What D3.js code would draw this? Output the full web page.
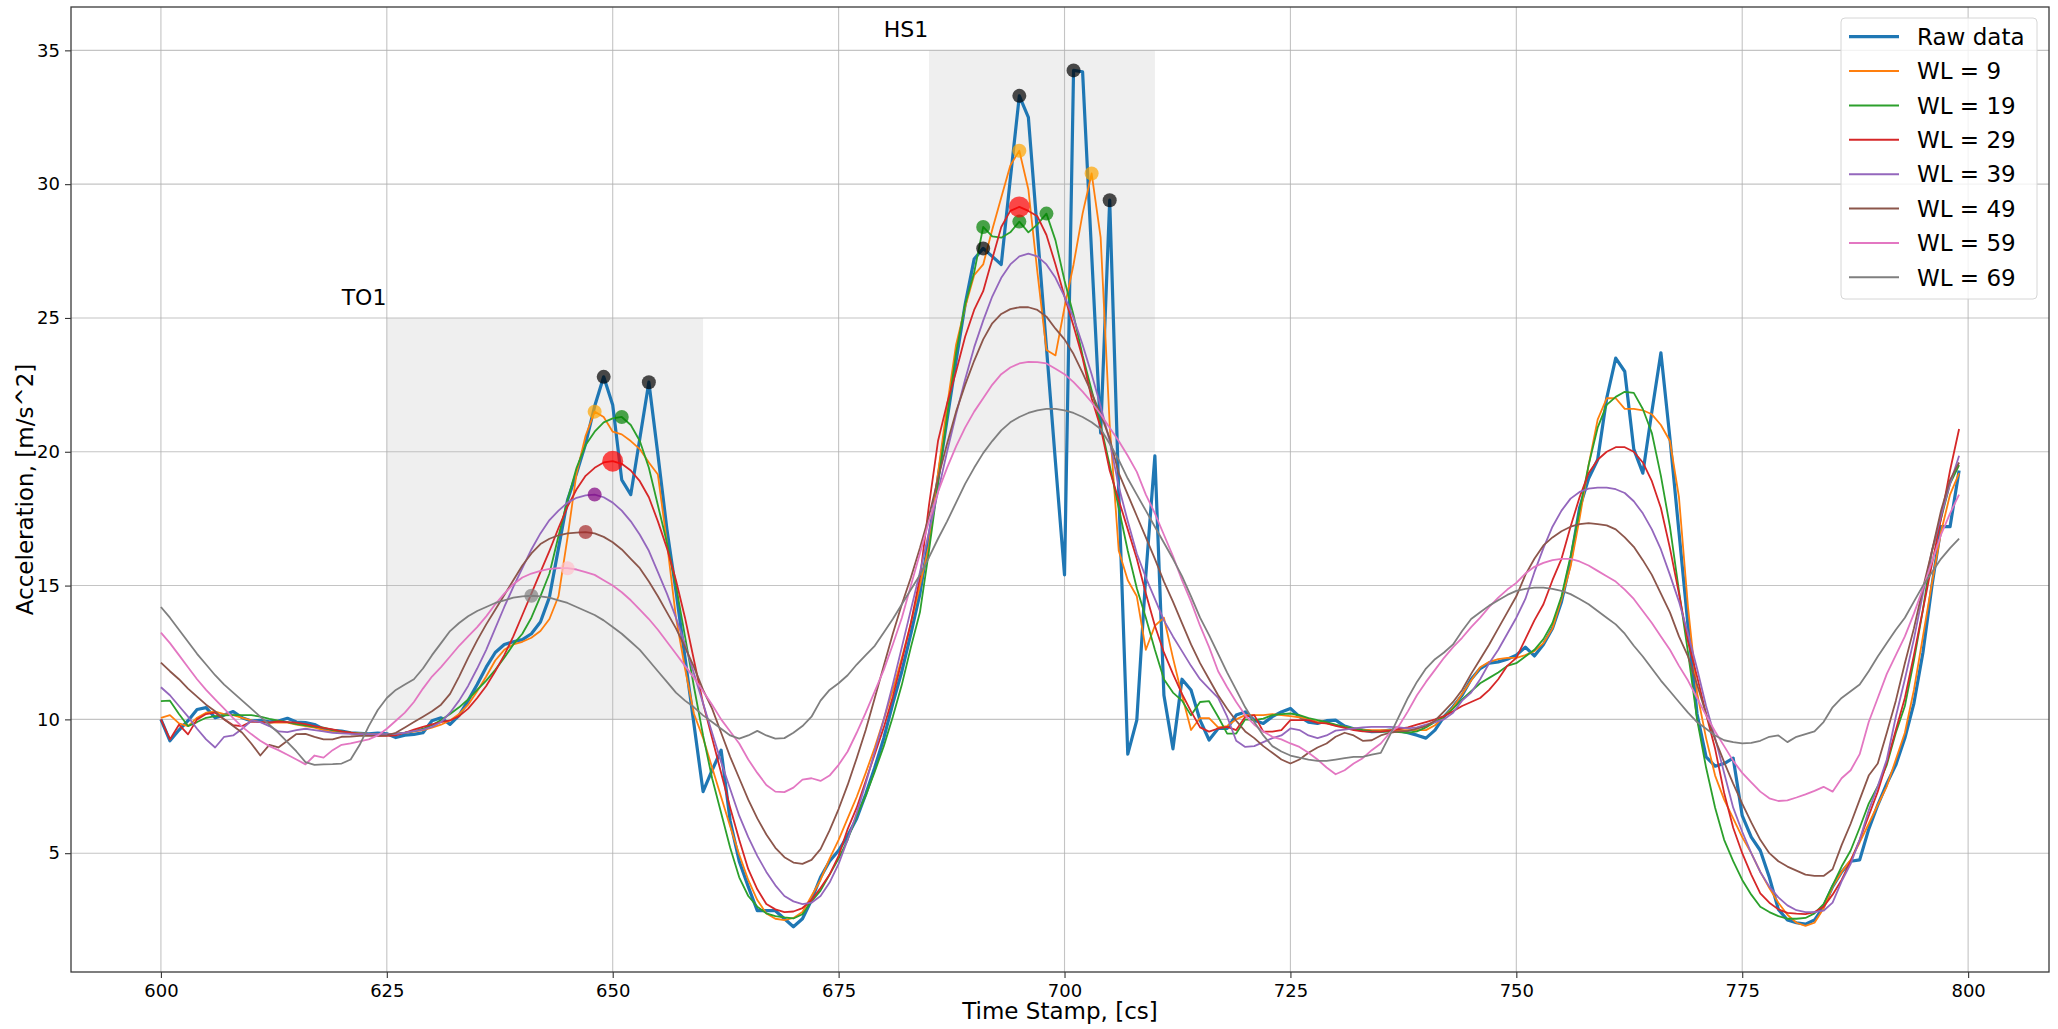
<!DOCTYPE html>
<html>
<head>
<meta charset="utf-8">
<script src="https://cdn.jsdelivr.net/npm/d3@7"></script>
<style>
  html, body { margin: 0; padding: 0; background: #ffffff; }
  svg { display: block; }
  text { font-family: "DejaVu Sans", sans-serif; fill: #000; }
</style>
</head>
<body>
<svg id="chart" width="2058" height="1029"></svg>
<script>
// ---------------- DATA ----------------
const timeStamp = d3.range(600, 800);   // time stamps 600 ... 799 [cs]

const rawData = [
 10.0, 9.2, 9.6, 9.95, 10.37, 10.44, 10.06, 10.16, 10.29, 10.06,
 9.94, 9.96, 9.91, 9.94, 10.04, 9.9, 9.88, 9.81, 9.63, 9.59,
 9.56, 9.5, 9.48, 9.46, 9.49, 9.46, 9.32, 9.41, 9.44, 9.5,
 9.95, 10.06, 9.81, 10.15, 10.7, 11.3, 11.95, 12.5, 12.8, 12.9,
 12.98, 13.2, 13.64, 14.57, 16.4, 18.2, 19.2, 20.3, 21.7, 22.8,
 21.75, 18.95, 18.4, 20.5, 22.6, 19.9, 17.1, 14.8, 12.3, 9.8,
 7.3, 8.1, 8.85, 6.2, 4.7, 3.75, 2.85, 2.85, 2.85, 2.55,
 2.25, 2.55, 3.25, 4.1, 4.7, 5.1, 5.65, 6.3, 7.2, 8.2,
 9.3, 10.6, 11.8, 13.2, 14.7, 16.8, 19.0, 21.2, 23.4, 25.5,
 27.2, 27.6, 27.3, 27.0, 30.2, 33.3, 32.5, 28.2, 23.9, 19.6,
 15.4, 34.25, 34.2, 27.4, 20.7, 29.4, 18.5, 8.7, 9.97, 15.4,
 19.85, 10.9, 8.9, 11.5, 11.1, 9.97, 9.23, 9.66, 9.66, 10.16,
 10.28, 9.97, 9.85, 10.1, 10.28, 10.41, 10.1, 9.9, 9.85, 9.95,
 9.97, 9.75, 9.65, 9.6, 9.54, 9.55, 9.6, 9.58, 9.5, 9.41,
 9.3, 9.6, 10.1, 10.47, 10.9, 11.5, 11.9, 12.1, 12.15, 12.25,
 12.4, 12.7, 12.37, 12.8, 13.4, 14.4, 15.9, 17.9, 19.0, 19.7,
 22.0, 23.5, 23.0, 20.1, 19.2, 21.5, 23.7, 20.5, 17.0, 13.5,
 10.2, 8.6, 8.25, 8.35, 8.55, 6.4, 5.6, 5.1, 4.1, 2.9,
 2.5, 2.4, 2.35, 2.5, 3.0, 3.75, 4.3, 4.7, 4.75, 5.9,
 6.8, 7.6, 8.3, 9.3, 10.6, 12.5, 15.0, 17.2, 17.2, 19.3
];

const wl9 = [
 10.06, 10.16, 9.85, 9.75, 10.06, 10.25, 10.29, 10.2, 10.16, 10.06,
 9.96, 9.9, 9.88, 9.88, 9.88, 9.8, 9.75, 9.69, 9.6, 9.54,
 9.5, 9.5, 9.48, 9.46, 9.46, 9.44, 9.46, 9.5, 9.54, 9.6,
 9.69, 9.8, 9.96, 10.2, 10.55, 11.05, 11.6, 12.2, 12.6, 12.8,
 12.9, 13.05, 13.3, 13.75, 14.6, 16.8, 19.2, 20.6, 21.5, 21.3,
 20.75, 20.65, 20.4, 20.1, 19.6, 19.15, 16.6, 13.8, 11.9, 10.2,
 9.3, 8.2, 7.1, 6.0, 4.95, 4.0, 3.25, 2.75, 2.55, 2.5,
 2.58, 2.8, 3.4, 4.0, 4.8, 5.5, 6.3, 7.1, 8.0, 8.95,
 10.0, 11.1, 12.3, 13.6, 15.0, 16.5, 19.2, 21.7, 24.0, 25.4,
 26.6, 27.0, 28.3, 29.5, 30.7, 31.25, 29.8, 26.7, 23.8, 23.6,
 25.4, 27.0, 28.9, 30.4, 28.0, 21.0, 16.3, 15.2, 14.6, 12.6,
 13.5, 13.8, 12.3, 10.9, 9.6, 10.05, 10.05, 9.7, 9.75, 10.0,
 10.16, 10.16, 10.16, 10.2, 10.16, 10.12, 10.08, 10.03, 9.9, 9.85,
 9.78, 9.72, 9.66, 9.62, 9.6, 9.6, 9.6, 9.6, 9.6, 9.6,
 9.6, 9.78, 10.1, 10.45, 10.95, 11.45, 11.95, 12.15, 12.25, 12.3,
 12.3, 12.4, 12.55, 12.85, 13.4, 14.5, 15.7, 17.5, 19.5, 21.2,
 22.0, 22.0, 21.6, 21.6, 21.55, 21.4, 21.0, 20.4, 18.3, 14.2,
 11.0, 9.3, 7.9, 7.0, 6.3, 5.6, 5.0, 4.3, 3.7, 3.15,
 2.7, 2.4, 2.28, 2.4, 2.93, 3.75, 4.3, 4.75, 5.4, 6.1,
 6.8, 7.5, 8.5, 9.5, 11.1, 13.1, 15.1, 17.0, 18.4, 19.2
];

const wl19 = [
 10.68, 10.7, 10.2, 9.75, 9.9, 10.06, 10.12, 10.15, 10.16, 10.16,
 10.16, 10.1, 10.02, 9.95, 9.9, 9.82, 9.78, 9.72, 9.69, 9.6,
 9.55, 9.5, 9.46, 9.44, 9.44, 9.44, 9.46, 9.5, 9.56, 9.65,
 9.78, 9.98, 10.2, 10.45, 10.75, 11.1, 11.45, 11.85, 12.3, 12.8,
 13.2, 13.8, 14.6, 15.45, 16.85, 18.2, 19.4, 20.25, 20.75, 21.1,
 21.25, 21.3, 21.0, 20.4, 19.4, 18.0, 16.6, 15.0, 13.1, 11.2,
 9.4, 7.8, 6.5, 5.2, 4.1, 3.4, 3.0, 2.75, 2.65, 2.6,
 2.56, 2.72, 3.2, 3.6, 4.2, 4.8, 5.5, 6.4, 7.15, 8.05,
 9.0, 10.1, 11.3, 12.7, 14.0, 16.3, 18.8, 21.3, 23.7, 25.5,
 26.7, 28.4, 28.05, 28.0, 28.2, 28.6, 28.2, 28.5, 28.9, 27.9,
 26.4, 25.1, 23.6, 22.3, 21.0, 19.5, 17.9, 16.3, 14.9, 13.8,
 12.6, 11.5, 11.0, 10.7, 10.15, 10.65, 10.68, 10.1, 9.47, 9.47,
 10.0, 9.97, 10.03, 10.16, 10.2, 10.22, 10.16, 10.05, 9.97, 9.9,
 9.8, 9.72, 9.66, 9.6, 9.56, 9.54, 9.54, 9.52, 9.5, 9.55,
 9.7, 9.9, 10.1, 10.4, 10.75, 11.05, 11.35, 11.55, 11.75, 12.0,
 12.1, 12.35, 12.6, 13.0, 13.6, 14.6, 16.1, 17.8, 19.5, 20.9,
 21.75, 22.05, 22.24, 22.2, 21.6, 20.7, 19.1, 17.2, 14.8, 12.5,
 10.0, 8.2, 6.7, 5.5, 4.7, 4.0, 3.45, 3.0, 2.8, 2.65,
 2.55, 2.55, 2.58, 2.75, 3.1, 3.8, 4.5, 5.1, 5.95, 6.85,
 7.5, 8.3, 9.5, 10.5, 12.2, 14.1, 16.3, 17.5, 18.8, 19.5
];

const wl29 = [
 10.0, 9.25, 9.8, 9.44, 10.0, 10.2, 10.25, 10.0, 9.78, 9.75,
 9.92, 9.9, 9.88, 9.92, 9.9, 9.88, 9.82, 9.75, 9.68, 9.63,
 9.55, 9.5, 9.45, 9.42, 9.38, 9.38, 9.4, 9.5, 9.62, 9.72,
 9.81, 9.9, 9.96, 10.12, 10.4, 10.8, 11.25, 11.8, 12.4, 13.1,
 13.9, 14.7, 15.5, 16.3, 17.15, 17.95, 18.6, 19.1, 19.4, 19.6,
 19.65, 19.55, 19.3, 18.9, 18.3, 17.4, 16.4, 15.2, 13.8, 12.2,
 10.6, 9.3, 8.0, 6.7, 5.5, 4.4, 3.65, 3.1, 2.9, 2.8,
 2.82, 2.95, 3.25, 3.7, 4.2, 4.9, 5.9, 6.7, 7.7, 8.7,
 9.7, 10.85, 12.2, 13.6, 15.3, 18.0, 20.4, 21.8, 23.0, 24.3,
 25.3, 26.0, 27.2, 28.4, 29.0, 29.15, 29.0, 28.8, 28.1, 27.0,
 25.8, 24.7, 23.5, 22.0, 20.9, 19.3, 18.2, 17.1, 16.0, 14.7,
 13.5, 12.5, 11.7, 10.95, 10.3, 9.7, 9.54, 9.66, 9.72, 9.6,
 10.1, 10.16, 9.54, 9.54, 9.6, 9.97, 9.97, 9.97, 9.87, 9.85,
 9.76, 9.68, 9.6, 9.55, 9.54, 9.54, 9.58, 9.64, 9.7, 9.8,
 9.9, 10.0, 10.12, 10.3, 10.5, 10.65, 10.8, 11.1, 11.5, 12.0,
 12.3, 13.0, 13.7, 14.3, 15.2, 16.0, 17.2, 18.3, 19.2, 19.7,
 20.0, 20.17, 20.17, 20.0, 19.6, 18.9, 17.9, 16.4, 14.7, 12.9,
 11.6, 10.2, 8.9, 7.25, 5.95, 5.0, 4.2, 3.5, 3.15, 2.9,
 2.77, 2.74, 2.72, 2.8, 3.0, 3.45, 4.0, 4.7, 5.5, 6.4,
 7.3, 8.4, 9.6, 10.8, 12.4, 14.1, 15.8, 17.5, 19.3, 20.85
];

const wl39 = [
 11.2, 10.9, 10.5, 10.1, 9.65, 9.25, 8.95, 9.35, 9.4, 9.65,
 9.95, 9.9, 9.75, 9.55, 9.52, 9.6, 9.65, 9.6, 9.55, 9.5,
 9.48, 9.46, 9.45, 9.45, 9.45, 9.45, 9.46, 9.5, 9.56, 9.62,
 9.72, 9.9, 10.25, 10.7, 11.25, 11.9, 12.6, 13.4, 14.2, 14.95,
 15.65, 16.35, 16.95, 17.45, 17.8, 18.1, 18.28, 18.37, 18.4, 18.3,
 18.1, 17.8, 17.4, 16.9, 16.3, 15.5, 14.7, 13.8, 12.8, 11.7,
 10.6, 9.5, 8.4, 7.4, 6.4, 5.6, 4.9, 4.3, 3.8, 3.4,
 3.2, 3.1, 3.15, 3.4, 3.9, 4.6, 5.5, 6.5, 7.6, 8.8,
 10.0, 11.3, 12.7, 14.1, 15.5, 17.0, 18.5, 20.0, 21.4, 22.7,
 23.9, 24.9, 25.8, 26.5, 27.0, 27.3, 27.4, 27.3, 27.0, 26.5,
 25.8, 25.0, 24.0, 22.9, 21.7, 20.4, 18.7, 17.4, 16.2, 15.3,
 14.5, 13.7, 13.1, 12.55, 12.0, 11.5, 11.15, 10.8, 10.1, 9.2,
 8.97, 9.0, 9.15, 9.3, 9.4, 9.66, 9.6, 9.4, 9.3, 9.4,
 9.58, 9.62, 9.66, 9.7, 9.72, 9.72, 9.72, 9.7, 9.66, 9.7,
 9.8, 9.9, 10.0, 10.25, 10.7, 11.0, 11.5, 12.1, 12.6, 13.2,
 13.8, 14.5, 15.5, 16.4, 17.2, 17.8, 18.25, 18.5, 18.62, 18.66,
 18.66, 18.6, 18.46, 18.15, 17.7, 17.1, 16.35, 15.4, 14.4, 13.2,
 11.9, 10.5, 9.3, 8.0, 6.7, 5.8, 5.0, 4.3, 3.75, 3.35,
 3.05, 2.87, 2.8, 2.8, 2.85, 3.15, 3.95, 4.6, 5.5, 6.6,
 7.5, 8.5, 10.1, 11.5, 13.0, 14.7, 16.3, 17.6, 18.8, 19.85
];

const wl49 = [
 12.12, 11.8, 11.5, 11.15, 10.85, 10.55, 10.3, 10.0, 9.75, 9.5,
 9.1, 8.65, 9.05, 8.95, 9.2, 9.45, 9.46, 9.35, 9.25, 9.25,
 9.35, 9.36, 9.38, 9.38, 9.38, 9.4, 9.5, 9.7, 9.9, 10.1,
 10.3, 10.55, 10.95, 11.6, 12.3, 12.95, 13.55, 14.1, 14.65, 15.2,
 15.75, 16.2, 16.55, 16.75, 16.88, 16.95, 16.98, 17.0, 16.95, 16.82,
 16.62, 16.35, 16.0, 15.65, 15.15, 14.6, 14.0, 13.4, 12.7, 11.95,
 11.1, 10.4, 9.5, 8.6, 7.8, 7.0, 6.3, 5.7, 5.2, 4.85,
 4.65, 4.6, 4.75, 5.15, 5.85, 6.65, 7.55, 8.55, 9.6, 10.8,
 12.0, 13.2, 14.3, 15.3, 16.4, 17.6, 19.0, 20.3, 21.5, 22.5,
 23.4, 24.2, 24.8, 25.15, 25.33, 25.4, 25.4, 25.3, 25.05, 24.6,
 24.2, 23.65, 22.95, 22.2, 21.4, 20.5, 19.2, 18.4, 17.6, 16.8,
 16.0, 15.15, 14.4, 13.6, 12.8, 12.1, 11.5, 10.9, 10.4, 9.95,
 9.55, 9.3, 9.0, 8.75, 8.5, 8.35, 8.5, 8.75, 8.95, 9.1,
 9.35, 9.5, 9.4, 9.2, 9.22, 9.4, 9.5, 9.55, 9.57, 9.65,
 9.75, 9.95, 10.3, 10.65, 11.1, 11.7, 12.25, 12.8, 13.4, 14.0,
 14.6, 15.4, 16.0, 16.5, 16.8, 17.03, 17.2, 17.3, 17.33, 17.3,
 17.25, 17.1, 16.8, 16.45, 15.95, 15.4, 14.7, 14.0, 13.1, 12.35,
 11.3, 10.2, 9.25, 8.4, 7.6, 6.85, 6.15, 5.5, 5.0, 4.7,
 4.5, 4.35, 4.2, 4.15, 4.15, 4.4, 5.3, 6.1, 7.0, 7.9,
 8.35, 9.5, 10.7, 12.1, 13.4, 14.9, 16.3, 17.8, 18.95, 19.6
];

const wl59 = [
 13.24, 12.85, 12.4, 11.95, 11.5, 11.1, 10.75, 10.4, 10.05, 9.72,
 9.45, 9.2, 9.0, 8.85, 8.68, 8.5, 8.32, 8.65, 8.57, 8.85,
 9.05, 9.1, 9.18, 9.25, 9.4, 9.65, 9.95, 10.25, 10.65, 11.15,
 11.6, 11.95, 12.35, 12.75, 13.1, 13.45, 13.85, 14.3, 14.7, 15.05,
 15.3, 15.45, 15.55, 15.62, 15.65, 15.65, 15.6, 15.5, 15.4, 15.2,
 15.0, 14.75, 14.45, 14.1, 13.75, 13.35, 12.9, 12.45, 12.0, 11.55,
 11.05, 10.55, 10.0, 9.55, 9.1, 8.5, 8.0, 7.55, 7.3, 7.28,
 7.45, 7.75, 7.8, 7.7, 7.9, 8.3, 8.8, 9.5, 10.25, 11.05,
 11.85, 12.8, 13.8, 15.0, 16.2, 17.4, 18.5, 19.4, 20.2, 20.9,
 21.5, 22.0, 22.5, 22.9, 23.15, 23.3, 23.36, 23.35, 23.3, 23.1,
 22.9, 22.6, 22.25, 21.85, 21.4, 20.9, 20.4, 19.85, 19.25, 18.4,
 17.7, 16.9, 16.1, 15.2, 14.4, 13.5, 12.7, 11.8, 11.2, 10.65,
 10.15, 9.8, 9.55, 9.35, 9.25, 9.1, 8.97, 8.75, 8.5, 8.2,
 7.95, 8.1, 8.35, 8.55, 8.85, 9.1, 9.5, 9.75, 10.3, 10.9,
 11.4, 11.85, 12.3, 12.7, 13.05, 13.45, 13.8, 14.2, 14.55, 14.85,
 15.1, 15.45, 15.7, 15.85, 15.95, 16.0, 16.0, 15.9, 15.75, 15.55,
 15.35, 15.15, 14.85, 14.5, 14.05, 13.6, 13.1, 12.6, 12.0, 11.45,
 10.8, 10.15, 9.55, 9.0, 8.45, 8.0, 7.65, 7.3, 7.05, 6.95,
 6.97, 7.08, 7.2, 7.33, 7.48, 7.3, 7.8, 8.1, 8.7, 9.9,
 10.8, 11.7, 12.4, 13.1, 13.95, 14.9, 15.9, 16.9, 17.7, 18.4
];

const wl69 = [
 14.2, 13.8, 13.35, 12.9, 12.45, 12.05, 11.65, 11.3, 11.0, 10.7,
 10.4, 10.1, 9.8, 9.5, 9.15, 8.8, 8.4, 8.3, 8.32, 8.33,
 8.35, 8.5, 9.05, 9.75, 10.35, 10.8, 11.1, 11.3, 11.5, 11.9,
 12.4, 12.85, 13.3, 13.6, 13.85, 14.05, 14.2, 14.35, 14.45, 14.55,
 14.6, 14.62, 14.6, 14.55, 14.45, 14.35, 14.2, 14.05, 13.9, 13.7,
 13.45, 13.2, 12.9, 12.6, 12.2, 11.8, 11.4, 11.0, 10.7, 10.45,
 10.15, 9.9, 9.65, 9.4, 9.28, 9.4, 9.57, 9.4, 9.28, 9.3,
 9.5, 9.75, 10.1, 10.7, 11.1, 11.35, 11.65, 12.05, 12.4, 12.75,
 13.25, 13.75, 14.3, 14.85, 15.4, 16.05, 16.75, 17.4, 18.1, 18.8,
 19.4, 19.95, 20.4, 20.8, 21.1, 21.3, 21.45, 21.55, 21.6, 21.6,
 21.55, 21.45, 21.3, 21.1, 20.85, 20.3, 19.7, 19.0, 18.4, 17.8,
 17.2, 16.6, 16.0, 15.35, 14.6, 13.8, 13.15, 12.45, 11.75, 11.1,
 10.45, 9.9, 9.4, 9.0, 8.8, 8.65, 8.57, 8.5, 8.45, 8.45,
 8.5, 8.55, 8.6, 8.6, 8.68, 8.75, 9.4, 10.1, 10.8, 11.4,
 11.9, 12.25, 12.5, 12.8, 13.3, 13.75, 14.0, 14.25, 14.45, 14.65,
 14.8, 14.88, 14.92, 14.92, 14.88, 14.8, 14.68, 14.5, 14.3, 14.05,
 13.8, 13.55, 13.2, 12.75, 12.35, 11.9, 11.45, 11.05, 10.65, 10.25,
 9.9, 9.65, 9.4, 9.22, 9.15, 9.1, 9.12, 9.2, 9.35, 9.4,
 9.15, 9.35, 9.45, 9.55, 9.9, 10.45, 10.8, 11.05, 11.3, 11.8,
 12.35, 12.85, 13.35, 13.8, 14.4, 15.0, 15.5, 16.0, 16.4, 16.75
];

const seriesLabels = ["Raw data", "WL = 9", "WL = 19", "WL = 29", "WL = 39", "WL = 49", "WL = 59", "WL = 69"];
const seriesValues = [rawData, wl9, wl19, wl29, wl39, wl49, wl59, wl69];

// detected peaks: [time stamp, acceleration]
const peaksRaw  = [[649, 22.8], [654, 22.6], [691, 27.6], [695, 33.3], [701, 34.25], [705, 29.4]];
const peaksWl9  = [[648, 21.5], [695, 31.25], [703, 30.4]];
const peaksWl19 = [[651, 21.3], [691, 28.4], [695, 28.6], [698, 28.9]];
const peaksWl29 = [[650, 19.65], [695, 29.15]];
const peaksWl39 = [[648, 18.4]];
const peaksWl49 = [[647, 17.0]];
const peaksWl59 = [[645, 15.65]];
const peaksWl69 = [[641, 14.62]];
const peakSets = [peaksRaw, peaksWl9, peaksWl19, peaksWl29, peaksWl39, peaksWl49, peaksWl59, peaksWl69];

const xTicks = [600, 625, 650, 675, 700, 725, 750, 775, 800];
const yTicks = [5, 10, 15, 20, 25, 30, 35];
const xLimits = [590.05, 808.95];
const yLimits = [0.56, 36.62];

const eventLabels = ["TO1", "HS1"];
const eventSpanX = [[625, 660], [685, 710]];
const eventSpanY = [[10, 25], [20, 35]];
const eventLabelAt = [[620, 25.5], [680, 35.5]];

const xAxisTitle = "Time Stamp, [cs]";
const yAxisTitle = "Acceleration, [m/s^2]";

// ---------------- STYLE ----------------
const lineColors = ["#1f77b4", "#ff7f0e", "#2ca02c", "#d62728", "#9467bd", "#8c564b", "#e377c2", "#7f7f7f"];
const lineWidths = [3.2, 1.8, 1.8, 1.8, 1.8, 1.8, 1.8, 1.8];
const peakColors = ["#000000", "#ffa500", "#008000", "#ff0000", "#800080", "#a52a2a", "#ffc0cb", "#808080"];
const peakRadius = [7, 7, 7, 10.5, 7, 7, 7, 7];

const plot = { left: 71, top: 7, right: 2049, bottom: 972 };

const svg = d3.select("#chart");
const x = d3.scaleLinear().domain(xLimits).range([plot.left, plot.right]);
const y = d3.scaleLinear().domain(yLimits).range([plot.bottom, plot.top]);

svg.append("rect").attr("width", 2058).attr("height", 1029).attr("fill", "#ffffff");

svg.append("defs").append("clipPath").attr("id", "plotclip")
  .append("rect").attr("x", plot.left).attr("y", plot.top)
  .attr("width", plot.right - plot.left).attr("height", plot.bottom - plot.top);

// shaded event windows
svg.append("g").selectAll("rect").data(eventSpanX).join("rect")
  .attr("x", d => x(d[0]))
  .attr("width", d => x(d[1]) - x(d[0]))
  .attr("y", (d, i) => y(eventSpanY[i][1]))
  .attr("height", (d, i) => y(eventSpanY[i][0]) - y(eventSpanY[i][1]))
  .attr("fill", "#efefef");

// grid
const grid = svg.append("g").attr("stroke", "#b0b0b0").attr("stroke-width", 1.1).attr("stroke-opacity", 0.75);
grid.selectAll(".gx").data(xTicks).join("line")
  .attr("x1", d => x(d)).attr("x2", d => x(d)).attr("y1", plot.top).attr("y2", plot.bottom);
grid.selectAll(".gy").data(yTicks).join("line")
  .attr("y1", d => y(d)).attr("y2", d => y(d)).attr("x1", plot.left).attr("x2", plot.right);

// series lines
const line = d3.line().x((d, i) => x(timeStamp[i])).y(d => y(d));
const linesG = svg.append("g").attr("clip-path", "url(#plotclip)");
seriesValues.forEach((vals, k) => {
  linesG.append("path").datum(vals)
    .attr("d", line)
    .attr("fill", "none")
    .attr("stroke", lineColors[k])
    .attr("stroke-width", lineWidths[k])
    .attr("stroke-linejoin", "round")
    .attr("stroke-linecap", "butt");
});

// peak markers
const markG = svg.append("g");
peakSets.forEach((pts, k) => {
  markG.selectAll(null).data(pts).join("circle")
    .attr("cx", d => x(d[0])).attr("cy", d => y(d[1]))
    .attr("r", peakRadius[k])
    .attr("fill", peakColors[k])
    .attr("fill-opacity", 0.7);
});

// annotation labels
svg.append("g").selectAll("text").data(eventLabels).join("text")
  .attr("x", (d, i) => x(eventLabelAt[i][0]))
  .attr("y", (d, i) => y(eventLabelAt[i][1]))
  .attr("font-size", 22)
  .text(d => d);

// axes
const xAxis = d3.axisBottom(x).tickValues(xTicks).tickSize(6).tickPadding(6).tickFormat(d3.format("d"));
const yAxis = d3.axisLeft(y).tickValues(yTicks).tickSize(6).tickPadding(5).tickFormat(d3.format("d"));
const gx = svg.append("g").attr("transform", `translate(0,${plot.bottom})`).call(xAxis);
const gy = svg.append("g").attr("transform", `translate(${plot.left},0)`).call(yAxis);
[gx, gy].forEach(g => {
  g.select(".domain").remove();
  g.selectAll(".tick line").attr("stroke", "#333").attr("stroke-width", 1.1);
  g.selectAll(".tick text").attr("font-size", 18).attr("fill", "#000")
    .attr("font-family", "DejaVu Sans");
});

// spines
svg.append("rect").attr("x", plot.left).attr("y", plot.top)
  .attr("width", plot.right - plot.left).attr("height", plot.bottom - plot.top)
  .attr("fill", "none").attr("stroke", "#3a3a3a").attr("stroke-width", 1.3);

// axis titles
svg.append("text").attr("x", (plot.left + plot.right) / 2).attr("y", 1019)
  .attr("text-anchor", "middle").attr("font-size", 23).text(xAxisTitle);
svg.append("text").attr("transform", `translate(33,${(plot.top + plot.bottom) / 2}) rotate(-90)`)
  .attr("text-anchor", "middle").attr("font-size", 23).text(yAxisTitle);

// legend
const lg = svg.append("g");
lg.append("rect").attr("x", 1841).attr("y", 18).attr("width", 196).attr("height", 281)
  .attr("rx", 4).attr("fill", "#ffffff").attr("fill-opacity", 0.8)
  .attr("stroke", "#d6d6d6").attr("stroke-width", 1);
seriesLabels.forEach((lab, k) => {
  const cy = 36.7 + k * 34.37;
  lg.append("line").attr("x1", 1849).attr("x2", 1899).attr("y1", cy).attr("y2", cy)
    .attr("stroke", lineColors[k]).attr("stroke-width", k === 0 ? 3.2 : 2);
  lg.append("text").attr("x", 1917).attr("y", cy + 8.3).attr("font-size", 23).text(lab);
});
</script>
</body>
</html>
